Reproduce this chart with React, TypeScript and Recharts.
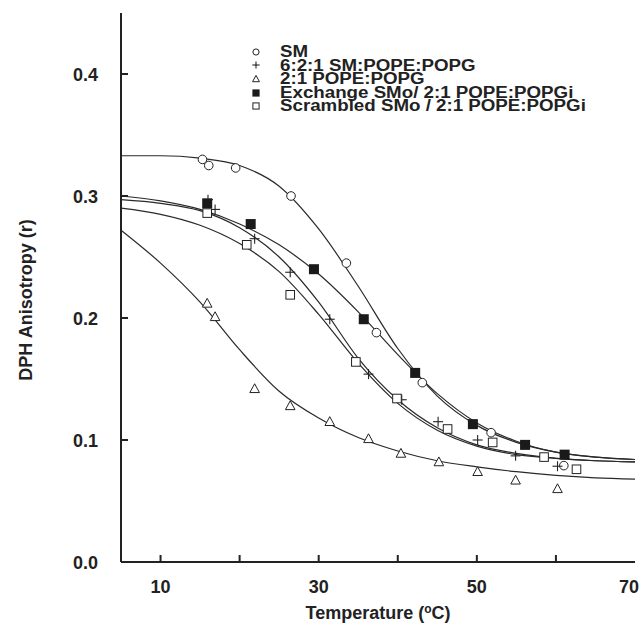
import React from "react"
import {
  ComposedChart,
  Line,
  Scatter,
  XAxis,
  YAxis,
  Label,
} from "recharts"

// measured points (temperature °C, anisotropy r)
const smT = [15.3, 16.1, 19.5, 26.5, 33.5, 37.3, 43.1, 51.8, 61.0]
const smR = [0.33, 0.325, 0.323, 0.3, 0.245, 0.188, 0.147, 0.106, 0.079]

const mixT = [16.0, 16.9, 21.9, 26.4, 31.4, 36.3, 40.5, 45.1, 50.1, 54.9, 60.2]
const mixR = [0.297, 0.289, 0.265, 0.2375, 0.199, 0.154, 0.133, 0.115, 0.1, 0.087, 0.0785]

const peT = [15.9, 16.9, 21.9, 26.4, 31.4, 36.3, 40.4, 45.2, 50.1, 54.9, 60.2]
const peR = [0.212, 0.201, 0.142, 0.128, 0.115, 0.101, 0.089, 0.082, 0.074, 0.067, 0.06]

const exT = [15.9, 21.4, 29.4, 35.7, 42.2, 49.5, 56.1, 61.1]
const exR = [0.294, 0.277, 0.24, 0.199, 0.155, 0.113, 0.096, 0.088]

const scT = [15.9, 20.9, 26.4, 34.7, 39.9, 46.3, 52.0, 58.5, 62.6]
const scR = [0.286, 0.26, 0.219, 0.164, 0.134, 0.109, 0.098, 0.086, 0.076]

// fitted curves
const fitT = [5, 10, 15, 20, 25, 30, 35, 40, 45, 50, 55, 60, 65, 70]
const smFit = [0.333, 0.333, 0.331, 0.325, 0.308, 0.273, 0.226, 0.175, 0.136, 0.112, 0.098, 0.09, 0.086, 0.084]
const mixFit = [0.297, 0.294, 0.288, 0.274, 0.25, 0.213, 0.167, 0.133, 0.11, 0.096, 0.089, 0.085, 0.083, 0.082]
const peFit = [0.272, 0.245, 0.213, 0.174, 0.14, 0.118, 0.102, 0.091, 0.083, 0.078, 0.074, 0.071, 0.069, 0.068]
const exFit = [0.3, 0.296, 0.289, 0.277, 0.26, 0.236, 0.205, 0.17, 0.138, 0.114, 0.099, 0.09, 0.086, 0.084]
const scFit = [0.29, 0.285, 0.276, 0.261, 0.238, 0.203, 0.163, 0.13, 0.108, 0.095, 0.088, 0.085, 0.083, 0.082]

const xTicks = [10, 20, 30, 40, 50, 60, 70]
const xLabels = [10, 30, 50, 70]
const yTicks = [0, 0.1, 0.2, 0.3, 0.4]

const INK = "#222"
const FONT = "'Liberation Sans', Arial, sans-serif"

const pts = (ts: number[], rs: number[]) => ts.map((t, i) => ({ t, r: rs[i] }))
const fit = (rs: number[]) => fitT.map((t, i) => ({ t, r: rs[i] }))

type Kind = "circle" | "plus" | "triangle" | "filled" | "square"

function Marker({ kind, cx, cy, s = 1 }: { kind: Kind; cx: number; cy: number; s?: number }) {
  const k = s
  switch (kind) {
    case "circle":
      return <circle cx={cx} cy={cy} r={4.3 * k} fill="#fff" stroke={INK} strokeWidth={1} />
    case "plus":
      return (
        <g stroke={INK} strokeWidth={1.1}>
          <line x1={cx - 5 * k} x2={cx + 5 * k} y1={cy} y2={cy} />
          <line x1={cx} x2={cx} y1={cy - 5 * k} y2={cy + 5 * k} />
        </g>
      )
    case "triangle":
      return (
        <polygon
          points={`${cx},${cy - 5 * k} ${cx - 4.8 * k},${cy + 3.8 * k} ${cx + 4.8 * k},${cy + 3.8 * k}`}
          fill="#fff"
          stroke={INK}
          strokeWidth={1}
        />
      )
    case "filled":
      return <rect x={cx - 5 * k} y={cy - 5 * k} width={10 * k} height={10 * k} fill="#1a1a1a" />
    case "square":
      return (
        <rect x={cx - 4.3 * k} y={cy - 4.3 * k} width={8.6 * k} height={8.6 * k} fill="#fff" stroke={INK} strokeWidth={1} />
      )
  }
}

const series: { name: string; kind: Kind; ts: number[]; rs: number[]; fitR: number[] }[] = [
  { name: "SM", kind: "circle", ts: smT, rs: smR, fitR: smFit },
  { name: "6:2:1 SM:POPE:POPG", kind: "plus", ts: mixT, rs: mixR, fitR: mixFit },
  { name: "2:1 POPE:POPG", kind: "triangle", ts: peT, rs: peR, fitR: peFit },
  { name: "Exchange SMo/ 2:1 POPE:POPGi", kind: "filled", ts: exT, rs: exR, fitR: exFit },
  { name: "Scrambled SMo / 2:1 POPE:POPGi", kind: "square", ts: scT, rs: scR, fitR: scFit },
]

function XTick(props: any) {
  const { x, y, payload } = props
  const v = payload.value
  return (
    <g>
      {v < 70 && <line x1={x} x2={x} y1={y} y2={y - 7} stroke={INK} strokeWidth={2} />}
      {xLabels.includes(v) && (
        <text x={x - (v === 70 ? 6 : 0)} y={y + 31} textAnchor="middle" fontSize={18} fontWeight="bold" fill={INK} fontFamily={FONT}>
          {v}
        </text>
      )}
    </g>
  )
}

function YTick(props: any) {
  const { x, y, payload } = props
  return (
    <g>
      <line x1={x} x2={x + 7} y1={y} y2={y} stroke={INK} strokeWidth={2} />
      <text x={x - 23} y={y + 6.5} textAnchor="end" fontSize={18} fontWeight="bold" fill={INK} fontFamily={FONT}>
        {payload.value.toFixed(1)}
      </text>
    </g>
  )
}

function LegendBox() {
  return (
    <div
      style={{
        position: "absolute",
        left: 249,
        top: 45,
        fontFamily: FONT,
        fontWeight: "bold",
        fontSize: 16,
        color: INK,
      }}
    >
      {series.map((s) => (
        <div key={s.name} style={{ display: "flex", alignItems: "center", height: 13.6, lineHeight: "13.6px", whiteSpace: "nowrap" }}>
          <svg width={14} height={14} style={{ flex: "none" }}>
            <Marker kind={s.kind} cx={7} cy={7} s={0.72} />
          </svg>
          <span style={{ marginLeft: 17, display: "inline-block", transform: "scaleX(1.17)", transformOrigin: "left center" }}>
            {s.name}
          </span>
        </div>
      ))}
    </div>
  )
}

export default function App() {
  return (
    <div style={{ position: "relative", width: 642, height: 631, background: "#fff" }}>
      <style>{"body{margin:0}"}</style>
      <ComposedChart width={642} height={631} margin={{ top: 13, right: 7, bottom: 39, left: 0 }}>
        <XAxis
          dataKey="t"
          type="number"
          domain={[5, 70]}
          ticks={xTicks}
          allowDataOverflow
          axisLine={{ stroke: INK, strokeWidth: 2 }}
          tickLine={false}
          tickSize={0}
          tickMargin={0}
          tick={<XTick />}
          height={30}
          interval={0}
          label={
            <Label
              content={(p: any) => {
                const vb = p.viewBox
                return (
                  <text
                    x={vb.x + vb.width / 2}
                    y={vb.y + 57}
                    textAnchor="middle"
                    fontSize={18}
                    fontWeight="bold"
                    fill={INK}
                    fontFamily={FONT}
                  >
                    Temperature (
                    <tspan fontSize={12} dy={-6}>o</tspan>
                    <tspan dy={6}>C)</tspan>
                  </text>
                )
              }}
            />
          }
        />
        <XAxis
          xAxisId="top"
          orientation="top"
          type="number"
          domain={[5, 70]}
          height={0}
          tick={false}
          tickLine={false}
          axisLine={{ stroke: INK, strokeWidth: 2 }}
        />
        <YAxis
          dataKey="r"
          type="number"
          domain={[0, 0.45]}
          ticks={yTicks}
          allowDataOverflow
          width={121}
          axisLine={{ stroke: INK, strokeWidth: 2 }}
          tickLine={false}
          tickSize={0}
          tickMargin={0}
          tick={<YTick />}
          interval={0}
          label={
            <Label
              content={() => (
                <text
                  x={26}
                  y={300}
                  transform="rotate(-90 26 300)"
                  textAnchor="middle"
                  dominantBaseline="central"
                  fontSize={18}
                  fontWeight="bold"
                  fill={INK}
                  fontFamily={FONT}
                >
                  DPH Anisotropy (r)
                </text>
              )}
            />
          }
        />
        <YAxis
          yAxisId="right"
          orientation="right"
          type="number"
          domain={[0, 0.45]}
          width={0}
          tick={false}
          tickLine={false}
          axisLine={{ stroke: INK, strokeWidth: 2 }}
        />
        {series.map((s) => (
          <Line
            key={"fit-" + s.name}
            data={fit(s.fitR)}
            dataKey="r"
            type="monotone"
            stroke="#2a2a2a"
            strokeWidth={1.2}
            dot={false}
            activeDot={false}
            legendType="none"
            isAnimationActive={false}
          />
        ))}
        {series.map((s) => (
          <Scatter
            key={"pts-" + s.name}
            name={s.name}
            data={pts(s.ts, s.rs)}
            dataKey="r"
            isAnimationActive={false}
            shape={(p: any) => <Marker kind={s.kind} cx={p.cx} cy={p.cy} />}
          />
        ))}
      </ComposedChart>
      <LegendBox />
    </div>
  )
}
